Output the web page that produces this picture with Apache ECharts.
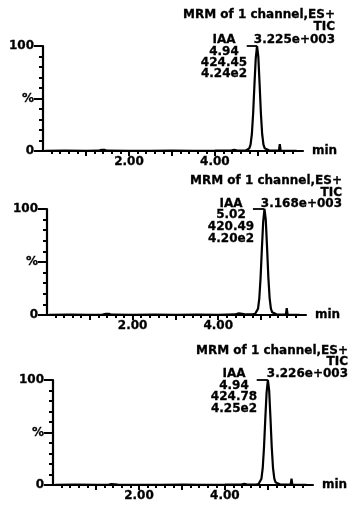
<!DOCTYPE html>
<html>
<head>
<meta charset="utf-8">
<script src="https://cdn.jsdelivr.net/npm/echarts@6/dist/echarts.min.js"></script>
<style>
html,body{margin:0;padding:0;background:#fff;}
#chart{width:362px;height:513px;}
</style>
</head>
<body>
<div id="chart"></div>
<script>
// ---- data ----
const times1 = [0.05, 0.5, 1.0, 1.3, 1.36, 1.40, 1.44, 1.5, 2.0, 2.5, 3.0, 3.5, 4.0, 4.38, 4.45, 4.52, 4.6, 4.72, 4.76, 4.80, 4.83, 4.86, 4.89, 4.92, 4.95, 4.98, 5.01, 5.04, 5.07, 5.10, 5.13, 5.16, 5.20, 5.26, 5.35, 5.49, 5.51, 5.53, 5.7, 5.9];
const ints1  = [0.2, 0.3, 0.2, 0.3, 1.2, 2.0, 1.0, 0.3, 0.2, 0.2, 0.3, 0.2, 0.3, 0.4, 1.2, 0.5, 0.4, 0.5, 0.8, 2.5, 6, 16, 36, 63, 88, 100, 90, 64, 36, 16, 6, 2.5, 1.2, 0.6, 0.4, 0.3, 6.5, 0.3, 0.2, 0.2];
const times2 = [0.05, 0.5, 1.0, 1.3, 1.38, 1.42, 1.46, 1.52, 2.0, 2.5, 3.0, 3.5, 4.0, 4.40, 4.48, 4.56, 4.65, 4.80, 4.86, 4.90, 4.93, 4.96, 4.99, 5.02, 5.05, 5.08, 5.11, 5.14, 5.17, 5.20, 5.23, 5.26, 5.30, 5.36, 5.45, 5.58, 5.60, 5.62, 5.75, 5.9];
const ints2  = [0.2, 0.3, 0.2, 0.3, 1.2, 2.2, 1.0, 0.3, 0.2, 0.3, 0.2, 0.3, 0.2, 0.5, 1.5, 1.2, 0.5, 0.6, 1.0, 2.5, 6, 16, 36, 63, 88, 100, 90, 64, 36, 16, 6, 2.5, 1.2, 0.6, 0.4, 0.3, 6.5, 0.3, 0.2, 0.2];
const times3 = [0.05, 0.5, 1.0, 1.3, 1.36, 1.40, 1.44, 1.5, 2.0, 2.5, 3.0, 3.5, 4.0, 4.38, 4.45, 4.52, 4.6, 4.72, 4.78, 4.82, 4.85, 4.88, 4.91, 4.94, 4.97, 5.00, 5.03, 5.06, 5.09, 5.12, 5.15, 5.18, 5.22, 5.28, 5.37, 5.53, 5.55, 5.57, 5.7, 5.9];
const ints3  = [0.2, 0.3, 0.2, 0.3, 0.8, 1.2, 0.6, 0.3, 0.2, 0.2, 0.3, 0.2, 0.3, 0.4, 1.0, 0.5, 0.4, 0.5, 0.8, 2.5, 6, 16, 36, 63, 88, 100, 90, 64, 36, 16, 6, 2.5, 1.2, 0.6, 0.4, 0.3, 6.0, 0.3, 0.2, 0.2];
const leaderStart = [4.74, 4.81, 4.74];
const leaderEnd   = [4.98, 5.08, 5.00];

const xMinorTicks = [0.2, 0.4, 0.6, 0.8, 1.2, 1.4, 1.6, 1.8, 2.2, 2.4, 2.6, 2.8, 3.2, 3.4, 3.6, 3.8, 4.2, 4.4, 4.6, 4.8, 5.2, 5.4, 5.6, 5.8];
const xMajorTicks = [1, 2, 3, 4, 5];
const xLabelValues = [2, 4];
const yLabelValues = [0, 50, 100];
const yLabelTexts  = ['0', '%', '100'];

const headerLine1 = 'MRM of 1 channel,ES+';
const headerLine2 = 'TIC';
const compound = 'IAA';
const totals  = ['3.225e+003', '3.168e+003', '3.226e+003'];
const rtLabels = ['4.94', '5.02', '4.94'];
const areaLabels = ['424.45', '420.49', '424.78'];
const heightLabels = ['4.24e2', '4.20e2', '4.25e2'];

// ---- layout ----
const FONT = 'DejaVu Sans';
const grids = [
  {left: 43, top: 46, width: 260, height: 105},
  {left: 47, top: 209, width: 259, height: 106},
  {left: 53, top: 380, width: 260, height: 105}
];
const textPos = [
  {right: 335, l1: 15, l2: 27, l3: 39.5, cx: 224, r1: 52, r2: 62.5, r3: 74},
  {right: 342, l1: 181, l2: 192.5, l3: 204, cx: 231, r1: 215, r2: 227, r3: 239},
  {right: 348, l1: 350.5, l2: 361.5, l3: 374, cx: 234, r1: 385.5, r2: 397, r3: 408.5}
];
const seriesTimes = [times1, times2, times3];
const seriesInts = [ints1, ints2, ints3];

const chart = echarts.init(document.getElementById('chart'), null, {renderer: 'canvas'});
const txt = {color: '#000', fontFamily: FONT, fontWeight: 'bold', fontSize: 12, textBorderColor: '#000', textBorderWidth: 0.3};
const xAxes = [], yAxes = [], series = [], graphics = [];

grids.forEach((g, i) => {
  xAxes.push({
    gridIndex: i, type: 'value', min: 0, max: 6.05, position: 'bottom',
    axisLine: {show: true, onZero: false, lineStyle: {color: '#000', width: 2.2}},
    axisTick: {show: true, customValues: xMinorTicks, length: 3, lineStyle: {color: '#000', width: 2}},
    axisLabel: {show: true, customValues: xLabelValues, formatter: v => Number(v).toFixed(2), margin: 5, ...txt},
    splitLine: {show: false},
    name: 'min', nameLocation: 'end', nameGap: 9, nameTextStyle: {...txt, verticalAlign: 'middle'}
  });
  xAxes.push({
    gridIndex: i, type: 'value', min: 0, max: 6.05, position: 'bottom',
    axisLine: {show: false},
    axisTick: {show: true, customValues: xMajorTicks, length: 5, lineStyle: {color: '#000', width: 2}},
    axisLabel: {show: false},
    splitLine: {show: false}
  });
  yAxes.push({
    gridIndex: i, type: 'value', min: 0, max: 100, interval: 10, position: 'left',
    axisLine: {show: true, onZero: false, lineStyle: {color: '#000', width: 2.2}},
    axisTick: {show: true, length: 4, lineStyle: {color: '#000', width: 2}},
    axisLabel: {show: true, customValues: yLabelValues, margin: 9,
      formatter: v => yLabelTexts[yLabelValues.indexOf(Number(v))], ...txt},
    splitLine: {show: false}
  });
  yAxes.push({
    gridIndex: i, type: 'value', min: 0, max: 100, position: 'left',
    axisLine: {show: false},
    axisTick: {show: true, customValues: yLabelValues, length: 9, lineStyle: {color: '#000', width: 2}},
    axisLabel: {show: false},
    splitLine: {show: false}
  });
  series.push({
    type: 'line', xAxisIndex: 2 * i, yAxisIndex: 2 * i, showSymbol: false, symbol: 'none',
    clip: false, silent: true,
    lineStyle: {color: '#000', width: 2.2},
    data: seriesTimes[i].map((t, k) => [t, seriesInts[i][k]])
  });
  series.push({
    type: 'line', xAxisIndex: 2 * i, yAxisIndex: 2 * i, showSymbol: false, symbol: 'none',
    clip: false, silent: true,
    lineStyle: {color: '#000', width: 1.8},
    data: [[leaderStart[i], 100], [leaderEnd[i], 100]]
  });
  const p = textPos[i];
  const mk = (text, x, y, align) => ({
    type: 'text', x: x, y: y, silent: true,
    style: {text: text, fill: '#000', stroke: '#000', lineWidth: 0.3, font: 'bold 12px "' + FONT + '"', align: align, verticalAlign: 'middle'}
  });
  graphics.push(mk(headerLine1, p.right, p.l1, 'right'));
  graphics.push(mk(headerLine2, p.right, p.l2, 'right'));
  graphics.push(mk(totals[i], p.right, p.l3, 'right'));
  graphics.push(mk(compound, p.cx, p.l3, 'center'));
  graphics.push(mk(rtLabels[i], p.cx, p.r1, 'center'));
  graphics.push(mk(areaLabels[i], p.cx, p.r2, 'center'));
  graphics.push(mk(heightLabels[i], p.cx, p.r3, 'center'));
});

chart.setOption({
  animation: false,
  backgroundColor: '#fff',
  grid: grids.map(g => ({...g, containLabel: false})),
  xAxis: xAxes,
  yAxis: yAxes,
  series: series,
  graphic: graphics
});
</script>
</body>
</html>
